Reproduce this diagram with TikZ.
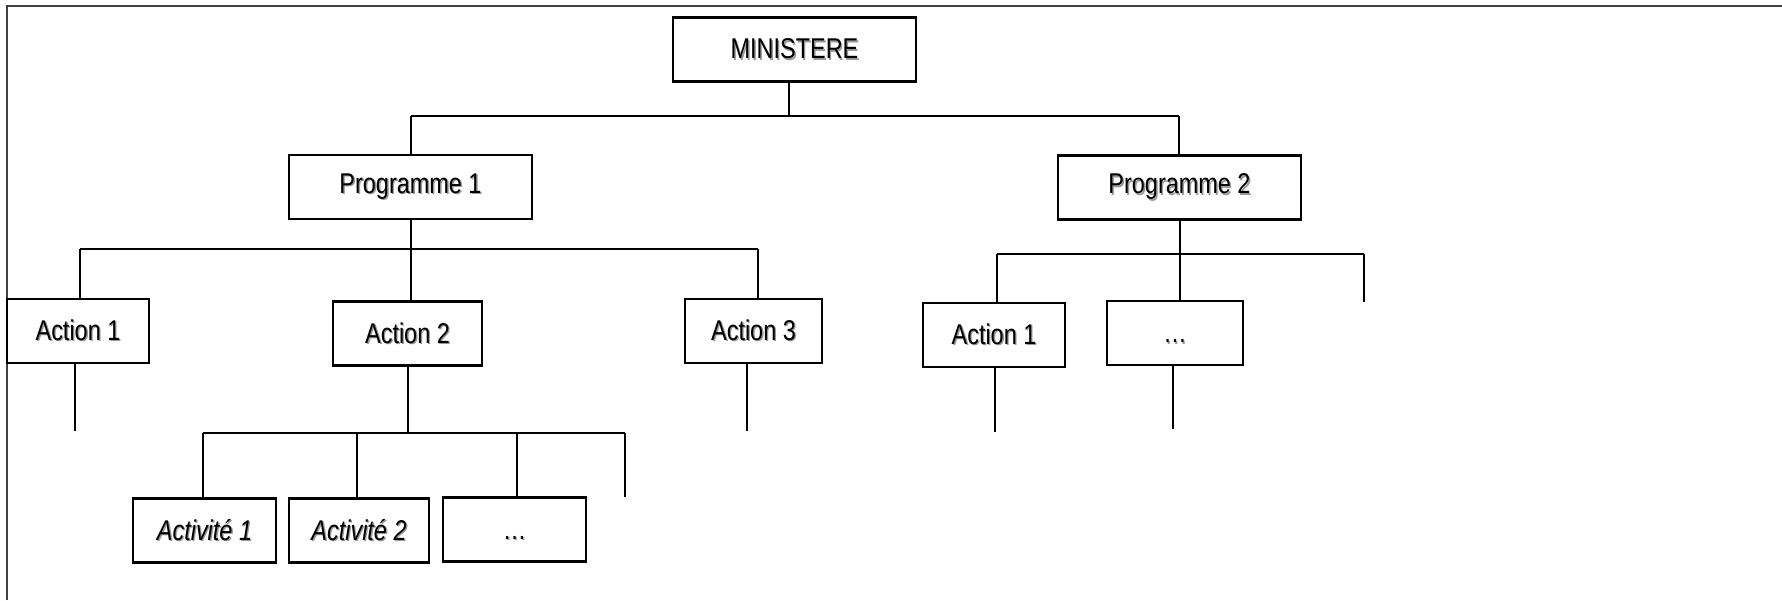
\documentclass[tikz,border=0pt]{standalone}
\usepackage{fontspec}
\setmainfont[FakeStretch=0.82]{Liberation Sans}
\usepackage{xcolor}
\usepackage{tikz}
\usetikzlibrary{calc}

% text with a light drop shadow
\newcommand\shd[1]{\rlap{\color{black!40}\kern0.7pt\raisebox{-0.7pt}{#1}}#1}

\begin{document}
\begin{tikzpicture}[
  x=0.5pt, y=-0.5pt,
  font=\fontsize{14.3}{17}\selectfont,
  orgbox/.style={draw, line width=1.2pt, minimum height=32pt, minimum width=71.5pt, inner sep=2pt, align=center},
  widebox/.style={orgbox, minimum width=121.5pt},
  link/.style={line width=1pt},
  bus/.style={line width=1.4pt},
  frame/.style={draw=black!75, line width=0.6pt},
]
\useasboundingbox (0,0) rectangle (1782,600);
\draw[frame] (7,600) -- (7,6) -- (1782,6);

% top
\node[widebox] (min) at (794.5,49.5) {\shd{MINISTERE}};
\node[widebox] (p1) at (410.5,187) {\shd{Programme 1}};
\node[widebox] (p2) at (1179.5,187.5) {\shd{Programme 2}};

% actions
\node[orgbox, minimum width=71pt] (a11) at (78,331) {\shd{Action 1}};
\node[orgbox, minimum width=74.5pt] (a12) at (407.5,333.5) {\shd{Action 2}};
\node[orgbox, minimum width=68.5pt] (a13) at (753.5,331) {\shd{Action 3}};
\node[orgbox, minimum width=71pt] (a21) at (994,335) {\shd{Action 1}};
\node[orgbox, minimum width=68pt] (a22) at (1175,333) {\shd{…}\vphantom{Action}};

% activities
\node[orgbox] (act1) at (204.5,530.5) {\shd{\itshape Activité 1}};
\node[orgbox, minimum width=70pt] (act2) at (359,530.5) {\shd{\itshape Activité 2}};
\node[orgbox] (act3) at (514.5,529.5) {\shd{…}\vphantom{Action}};

% bus ends and free ends
\coordinate (b0l) at (411,116);  \coordinate (b0r) at (1179,116);
\coordinate (b1l) at (80,249);   \coordinate (b1r) at (758,249);
\coordinate (b2l) at (203,433);  \coordinate (b2r) at (625,433);
\coordinate (b3l) at (997,254);  \coordinate (b3r) at (1364,254);
\coordinate (e2) at (625,497);   \coordinate (e3) at (1364,302);
\coordinate (t11) at (75,431);   \coordinate (t13) at (747,431);
\coordinate (t21) at (995,432);  \coordinate (t22) at (1173,429);

\foreach \a/\b in {b0l/b0r,b1l/b1r,b2l/b2r,b3l/b3r} \draw[bus] (\a) -- (\b);

\draw[link] ([xshift=-3pt]min.south) -- ([xshift=-3pt]min.south |- b0l);
\draw[link] (b0l) -- (b0l |- p1.north);
\draw[link] (b0r) -- (b0r |- p2.north);

\draw[link] (p1.south) -- (p1.south |- a12.north);
\draw[link] (b1l) -- (b1l |- a11.north);
\draw[link] (b1r) -- (b1r |- a13.north);

\draw[link] (a12.south) -- (a12.south |- b2l);
\draw[link] (b2l) -- (b2l |- act1.north);
\foreach \x/\n in {357/act2,517/act3} \draw[link] (\x,433) -- (\x,433 |- \n.north);
\draw[link] (b2r) -- (e2);

\draw[link] (p2.south) -- (p2.south |- a22.north);
\draw[link] (b3l) -- (b3l |- a21.north);
\draw[link] (b3r) -- (e3);

\foreach \t/\n in {t11/a11,t13/a13,t21/a21,t22/a22} \draw[link] (\t |- \n.south) -- (\t);
\end{tikzpicture}
\end{document}
